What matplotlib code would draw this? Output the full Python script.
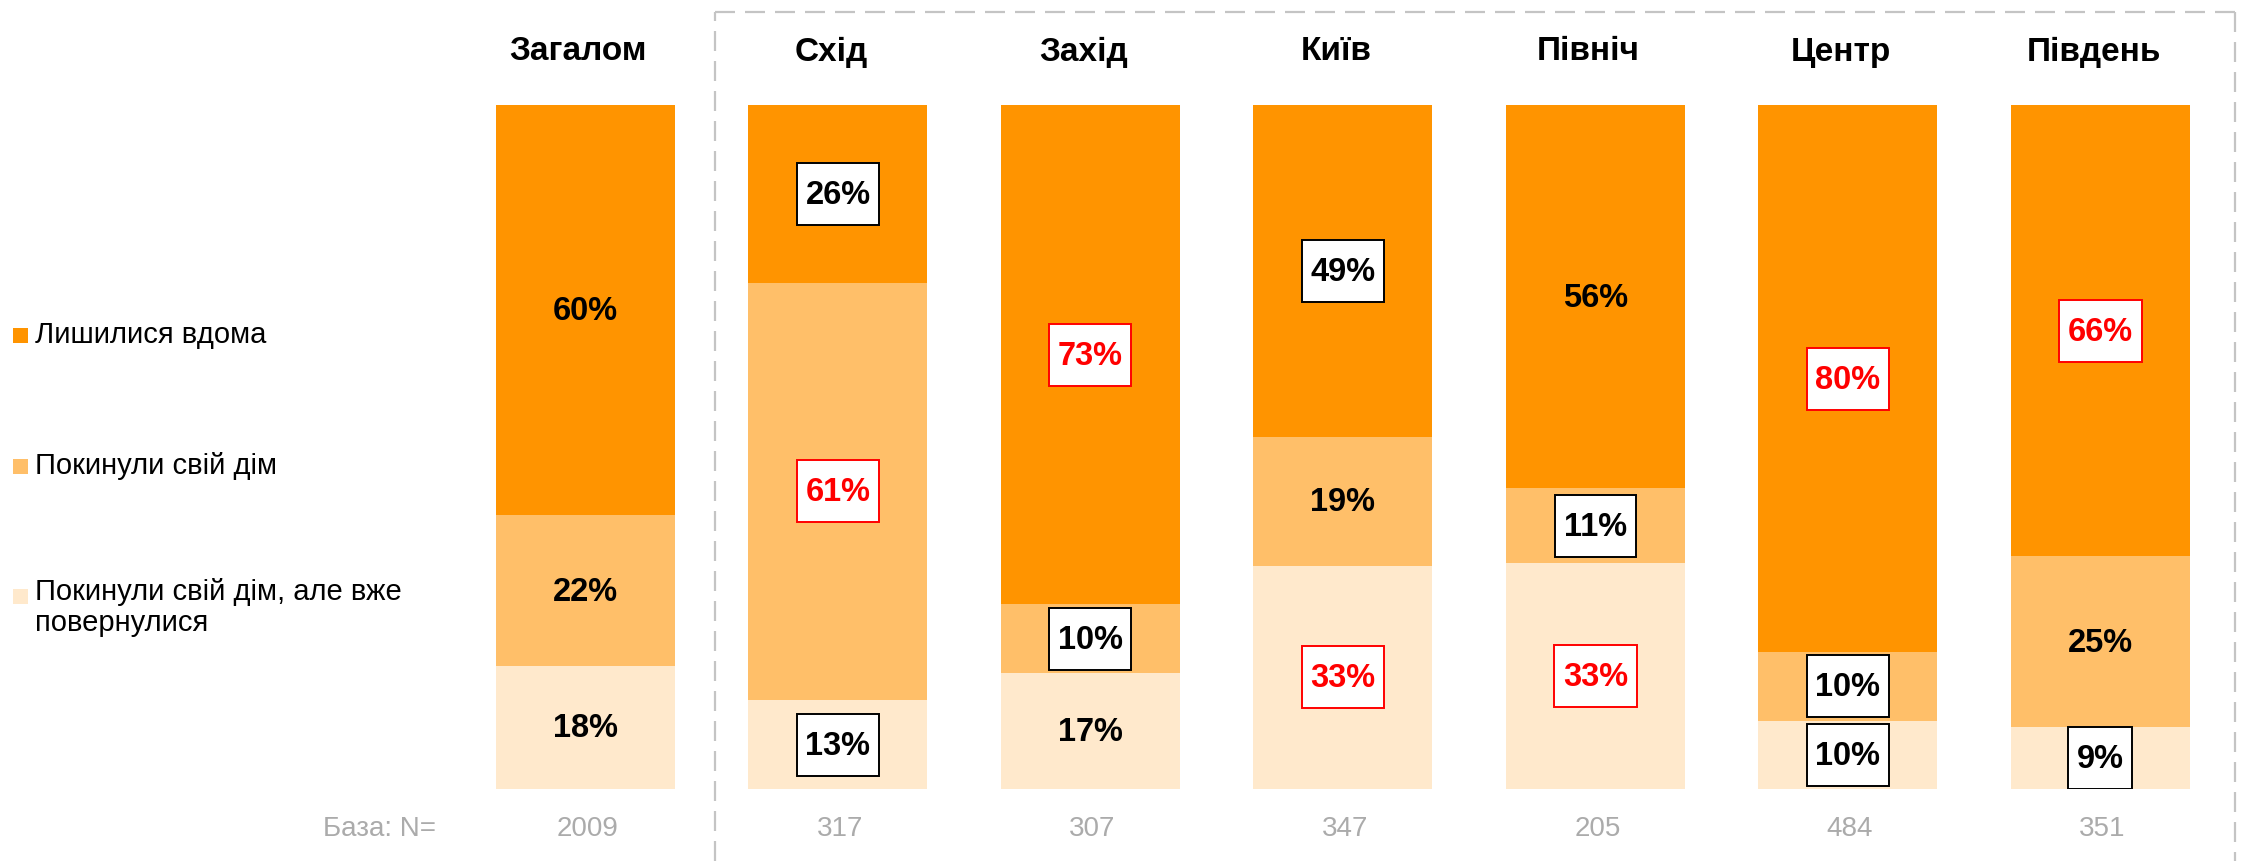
import matplotlib
matplotlib.use("Agg")
import matplotlib.pyplot as plt
from matplotlib.lines import Line2D
from matplotlib.patches import Rectangle
from matplotlib.transforms import blended_transform_factory
import numpy as np

plt.rcParams['font.family'] = ['Liberation Sans', 'DejaVu Sans']

categories = ['Загалом', 'Схід', 'Захід', 'Київ', 'Північ', 'Центр', 'Південь']
base_n = ['2009', '317', '307', '347', '205', '484', '351']
base_label = 'База: N='

stayed = [60, 26, 73, 49, 56, 80, 66]
left_home = [22, 61, 10, 19, 11, 10, 25]
returned = [18, 13, 17, 33, 33, 10, 9]

# significance vs total: 0 = none, -1 = lower (black box), 1 = higher (red box)
stayed_sig = [0, -1, 1, -1, 0, 1, 1]
left_sig = [0, 1, -1, 0, -1, -1, 0]
returned_sig = [0, -1, 0, 1, 1, -1, -1]

series_names = ['Лишилися вдома', 'Покинули свій дім',
                'Покинули свій дім, але вже\nповернулися']
colors = ['#FF9400', '#FFBF69', '#FFE9CC']

W, H = 2262, 861
fig = plt.figure(figsize=(W / 100, H / 100), dpi=100)
renderer = fig.canvas.get_renderer()

def fx(px):
    return px / W

def fy(py):
    return 1 - py / H

ax = fig.add_axes([0.2030, 0.0836, 0.7814, 0.7944])
ax.set_xlim(-0.5, 6.5)
ax.set_ylim(0, 100)
ax.axis('off')

px_x = 7.0 / (0.7814 * W)
px_y = 100.0 / (0.7944 * H)

x = np.arange(len(categories))
totals = np.array(stayed) + np.array(left_home) + np.array(returned)
scale = 100.0 / totals

stack = [(returned, returned_sig), (left_home, left_sig), (stayed, stayed_sig)]
stack_colors = [colors[2], colors[1], colors[0]]
bottom = np.zeros(len(categories))
width = 0.709
box_h = 62 * px_y
for (vals, sig), col in zip(stack, stack_colors):
    h = np.array(vals) * scale
    ax.bar(x, h, width=width, bottom=bottom, color=col, edgecolor='none')
    for i in range(len(categories)):
        yc = bottom[i] + h[i] / 2
        txt = f'{vals[i]}%'
        tc = 'black'
        if sig[i] != 0:
            tc = '#FF0000' if sig[i] > 0 else 'black'
        t = ax.text(x[i], yc - 1.5 * px_y, txt, ha='center', va='center',
                    fontsize=23.5, fontweight='bold', color=tc, zorder=4)
        if sig[i] != 0:
            tw = t.get_window_extent(renderer=renderer).width
            box_w = (tw + 17) * px_x
            ax.add_patch(Rectangle((x[i] - box_w / 2, yc - box_h / 2), box_w, box_h,
                                   facecolor='white', edgecolor=tc, linewidth=1.4,
                                   zorder=3))
    bottom = bottom + h

trans = blended_transform_factory(ax.transData, fig.transFigure)
for i, c in enumerate(categories):
    ax.text(x[i] - 7 * px_x, fy(52), c, transform=trans, ha='center', va='center',
            fontsize=24, fontweight='bold', color='black')
    ax.text(x[i] + 2 * px_x, fy(829), base_n[i], transform=trans, ha='center',
            va='center', fontsize=20, color='#ABABAB')
fig.text(fx(436), fy(829), base_label, ha='right', va='center',
         fontsize=20, color='#ABABAB')

dash_kw = dict(color='#C4C4C4', linewidth=1.6, linestyle=(0, (9, 4.5)))
xl, xr, yt = fx(715), fx(2235), fy(11.5)
fig.add_artist(Line2D([xl, xl], [0, yt], transform=fig.transFigure, **dash_kw))
fig.add_artist(Line2D([xl, xr], [yt, yt], transform=fig.transFigure, **dash_kw))
fig.add_artist(Line2D([xr, xr], [yt, 0], transform=fig.transFigure, **dash_kw))

leg_y = [335, 466, 596]
for name, col, yy in zip(series_names, colors, leg_y):
    fig.add_artist(Rectangle((fx(13), fy(yy + 8)), fx(15), 15 / H,
                             transform=fig.transFigure, facecolor=col,
                             edgecolor='none'))
    if '\n' in name:
        fig.text(fx(35), fy(yy) + 18 / H, name, ha='left', va='top',
                 fontsize=21, color='black', linespacing=1.15)
    else:
        fig.text(fx(35), fy(yy), name, ha='left', va='center',
                 fontsize=21, color='black')

fig.savefig('out.png', dpi=100, facecolor='white')
